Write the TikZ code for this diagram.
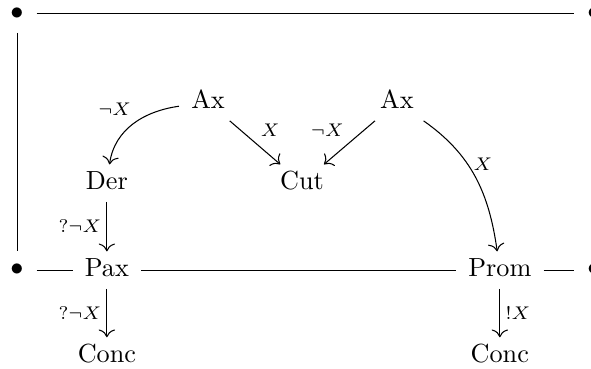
\documentclass[tikz,border=0pt]{standalone}
\usepackage{amsmath,amssymb}
\usetikzlibrary{arrows.meta}
\tikzset{
  objnode/.style={inner xsep=4.5pt, inner ysep=2.6pt, text height=6.9pt, text depth=1.8pt},
  dotnode/.style={inner sep=4.8pt},
  arrln/.style={-{Computer Modern Rightarrow[scale=1.2]}, line width=0.4pt},
  frameln/.style={line width=0.4pt},
  lbl/.style={font=\scriptsize, inner sep=2pt},
}

\begin{document}
\begin{tikzpicture}[x=1pt,y=1pt]
    \useasboundingbox (0,0) rectangle (225.6,140.8);
    % Corner points of the box
    \node[dotnode] (tl) at (6.5,135.5) {$\bullet$};
    \node[dotnode] (tr) at (226.7,135.5) {$\bullet$};
    \node[dotnode] (bl) at (6.5,37.7) {$\bullet$};
    \node[dotnode] (br) at (226.7,37.7) {$\bullet$};
    % Rules of the net
    \node[objnode] (ax1) at (79.4,101.8) {Ax};
    \node[objnode] (ax2) at (151.5,101.8) {Ax};
    \node[objnode] (der) at (40.8,70.9) {Der};
    \node[objnode] (cut) at (115.3,70.9) {Cut};
    \node[objnode] (pax) at (40.8,37.7) {Pax};
    \node[objnode] (prom) at (190.8,37.7) {Prom};
    \node[objnode] (conc1) at (40.8,4.9) {Conc};
    \node[objnode] (conc2) at (190.8,4.9) {Conc};
    % Box border
    \draw[frameln] (tl) -- (tr);
    \draw[frameln] (tl) -- (bl);
    \draw[frameln] (bl) -- (pax);
    \draw[frameln] (pax) -- (prom);
    \draw[frameln] (prom) -- (br);
    % Edges
    \draw[arrln] (ax1) to[out=188,in=82]
      node[lbl, pos=0.45, above left] {$\neg X$} (der);
    \draw[arrln] (ax1) -- node[lbl, above right] {$X$} (cut);
    \draw[arrln] (ax2) -- node[lbl, above left] {$\neg X$} (cut);
    \draw[arrln] (ax2) to[out=-35,in=98]
      node[lbl, pos=0.4, right] {$X$} (prom);
    \draw[arrln] (der) -- node[lbl, left] {$?\neg X$} (pax);
    \draw[arrln] (pax) -- node[lbl, left] {$?\neg X$} (conc1);
    \draw[arrln] (prom) -- node[lbl, right] {$!X$} (conc2);
\end{tikzpicture}
\end{document}
